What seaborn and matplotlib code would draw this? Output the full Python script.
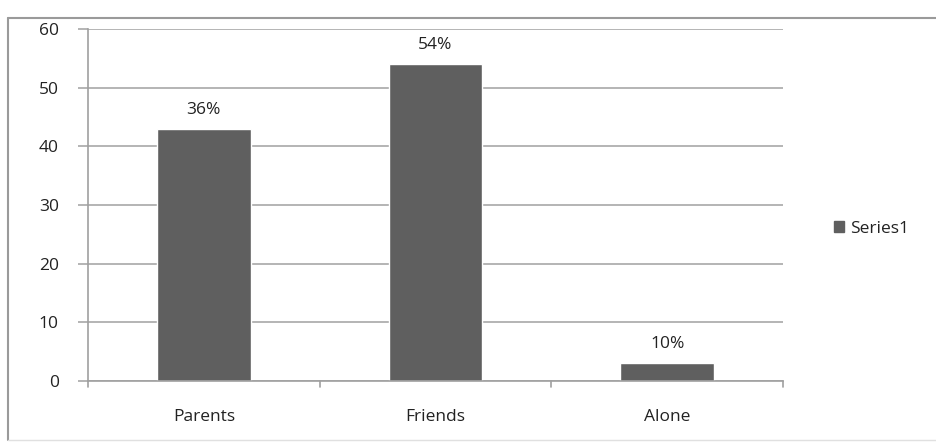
import matplotlib
matplotlib.use("Agg")
import matplotlib.pyplot as plt
import seaborn as sns
import pandas as pd
from matplotlib.patches import Rectangle
from matplotlib.lines import Line2D

categories = ["Parents", "Friends", "Alone"]
values = [43, 54, 3]
bar_labels = ["36%", "54%", "10%"]
y_ticks = [0, 10, 20, 30, 40, 50, 60]
series_name = "Series1"

sns.set_theme(style="white")
plt.rcParams["font.family"] = ["Open Sans", "DejaVu Sans"]

df = pd.DataFrame({"category": categories, "value": values})

fig = plt.figure(figsize=(9.36, 4.44), dpi=100)
W, H = 936, 444
ax = fig.add_axes([88 / W, 1 - 381 / H, (783 - 88) / W, (381 - 29) / H])

bar_color = "#5f5f5f"
sns.barplot(data=df, x="category", y="value", color=bar_color, width=0.405,
            ax=ax, saturation=1, label=series_name)

fs = 12.5
ax.set_ylim(0, 60)
ax.set_xlim(-0.5, 2.5)
ax.set_yticks(y_ticks)
ax.set_yticklabels([str(t) for t in y_ticks], fontsize=fs, color="#222222")
ax.yaxis.grid(True, color="#a8a8a8", linewidth=1.2)
ax.set_axisbelow(True)
ax.set_xlabel("")
ax.set_ylabel("")
ax.tick_params(axis="x", labelsize=fs, labelcolor="#222222", pad=20, length=0)
ax.tick_params(axis="y", length=7, width=1.2, color="#a8a8a8", pad=14, left=True)

for s in ["top", "right"]:
    ax.spines[s].set_visible(False)
for s in ["left", "bottom"]:
    ax.spines[s].set_color("#a0a0a0")
    ax.spines[s].set_linewidth(1.2)

# category boundary ticks on x axis
for xb in [-0.5, 0.5, 1.5, 2.5]:
    ax.plot([xb, xb], [0, -1.0], color="#a0a0a0", linewidth=1.2, clip_on=False)

for c in ax.containers:
    ax.bar_label(c, labels=bar_labels, padding=8, fontsize=fs, color="#222222")

leg = ax.legend(handles=[Rectangle((0, 0), 1, 1, color=bar_color)], labels=[series_name],
                loc="center left", bbox_to_anchor=(818 / W, 1 - 229 / H),
                bbox_transform=fig.transFigure, frameon=False, fontsize=fs,
                handlelength=0.6, handleheight=0.6, handletextpad=0.35)
for t in leg.get_texts():
    t.set_color("#222222")

# outer frame
fig.add_artist(Line2D([8 / W, 8 / W], [1 - 18 / H, 1 - 440 / H], transform=fig.transFigure,
                      color="#9a9a9a", linewidth=1.5))
fig.add_artist(Line2D([8 / W, 1.0], [1 - 18 / H, 1 - 18 / H], transform=fig.transFigure,
                      color="#9a9a9a", linewidth=1.5))
fig.add_artist(Line2D([8 / W, 1.0], [1 - 440 / H, 1 - 440 / H], transform=fig.transFigure,
                      color="#e0e0e0", linewidth=1.0))

fig.savefig("out.png", dpi=100)
